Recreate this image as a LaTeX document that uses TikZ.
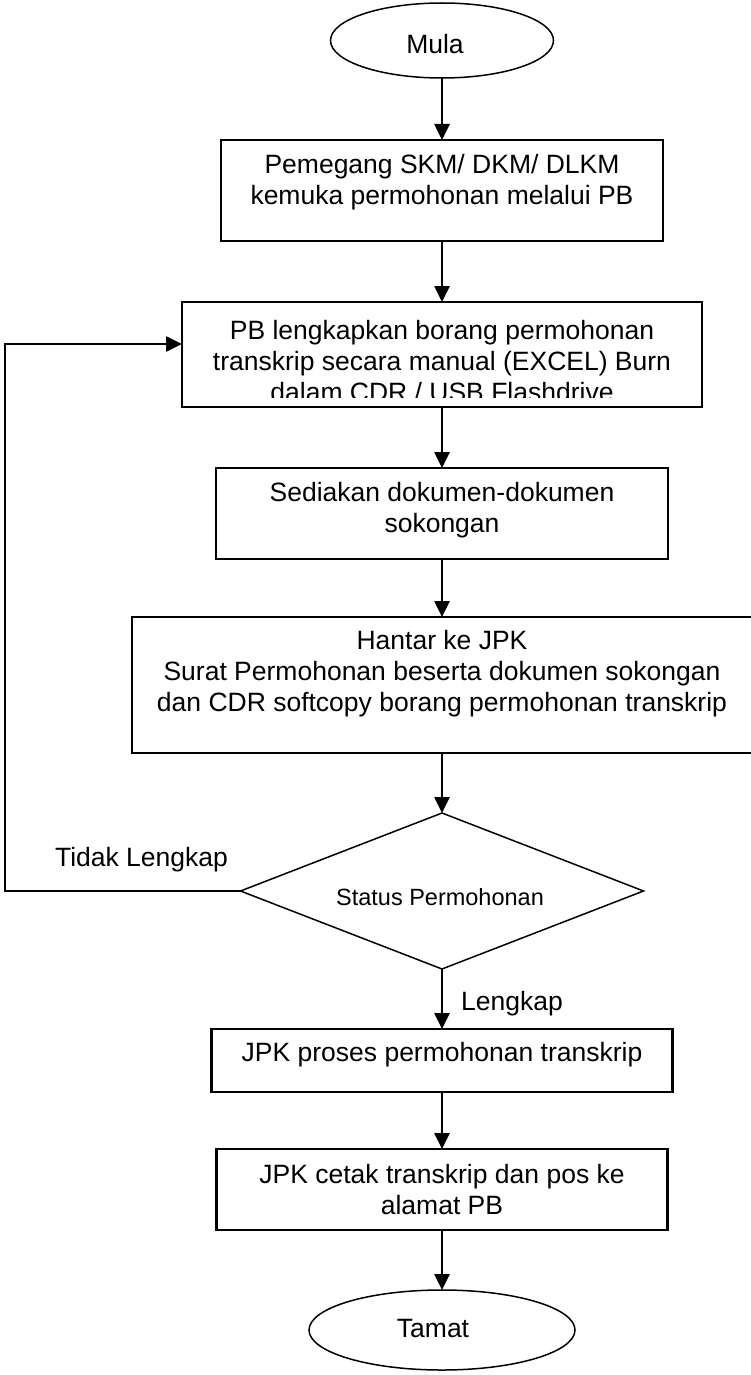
\documentclass[tikz,border=0pt]{standalone}
\usepackage{fontspec}
\setmainfont{Liberation Sans}
\usetikzlibrary{positioning,shapes.geometric,arrows.meta}
\tikzstyle{startstop} = [ellipse, draw=black, line width=1.5pt, inner sep=0pt, outer sep=0pt]
\tikzstyle{process} = [rectangle, draw=black, line width=2.2pt, inner sep=0pt, outer sep=0pt]
\tikzstyle{decision} = [diamond, draw=black, line width=1.5pt, inner sep=0pt, outer sep=0pt]
\tikzstyle{boxtext} = [align=center, inner sep=0pt, font=\fontsize{26.5}{31}\selectfont]
\tikzstyle{arrow} = [line width=2.6pt, -{Triangle[width=15pt,length=16pt]}]

\begin{document}
\begin{tikzpicture}[x=1pt, y=-1pt, node distance=60pt]
\useasboundingbox (0,0) rectangle (750,1375);


% Start

	\node (mula) [startstop, minimum width=223pt, minimum height=75pt] at (442,40.5) {};
	\node (mulaText) [boxtext] at ([xshift=-7pt,yshift=-3.5pt]mula.center) {Mula};


% Application

	\node (pemegang) [process, below=62pt of mula, minimum width=442pt, minimum height=101pt] {};
	\node (pemegangText) [boxtext] at ([yshift=8.5pt]pemegang.center) {Pemegang SKM/ DKM/ DLKM\\kemuka permohonan melalui PB};

	\node (borang) [process, below=61pt of pemegang, minimum width=520pt, minimum height=105pt] {};
	\begin{scope}
	\clip (borang.north west) rectangle ([yshift=10pt]borang.south east);
	\node (borangText) [boxtext] at ([yshift=-6.5pt]borang.center) {PB lengkapkan borang permohonan\\transkrip secara manual (EXCEL) Burn\\dalam CDR / USB Flashdrive};
	\end{scope}

	\node (sediakan) [process, below=61pt of borang, minimum width=452pt, minimum height=91pt] {};
	\node (sediakanText) [boxtext] at ([yshift=3.5pt]sediakan.center) {Sediakan dokumen-dokumen\\sokongan};

	\node (hantar) [process, below=58pt of sediakan, minimum width=620pt, minimum height=136pt] {};
	\node (hantarText) [boxtext] at ([yshift=11pt]hantar.center) {Hantar ke JPK\\Surat Permohonan beserta dokumen sokongan\\dan CDR softcopy borang permohonan transkrip};


% Decision

	\node (status) [decision, below=of hantar, minimum width=403pt, minimum height=156pt] {};
	\node (statusText) [boxtext, font=\fontsize{23.5}{28}\selectfont] at ([xshift=-2pt,yshift=-6pt]status.center) {Status Permohonan};


% JPK side

	\node (proses) [process, below=of status, minimum width=461pt, minimum height=63pt] {};
	\node (prosesText) [boxtext] at ([yshift=5.5pt]proses.center) {JPK proses permohonan transkrip};

	\node (cetak) [process, below=57pt of proses, minimum width=451pt, minimum height=81pt] {};
	\node (cetakText) [boxtext] at (cetak.center) {JPK cetak transkrip dan pos ke\\alamat PB};

	\node (tamat) [startstop, below=of cetak, minimum width=266pt, minimum height=80pt] {};
	\node (tamatText) [boxtext] at ([xshift=-9pt,yshift=2pt]tamat.center) {Tamat};


% Arrows
	\draw [arrow] (mula) -- (pemegang);
	\draw [arrow] (pemegang) -- (borang);
	\draw [arrow] (borang) -- (sediakan);
	\draw [arrow] (sediakan) -- (hantar);
	\draw [arrow] (hantar) -- (status);

	\draw [arrow] (status) -- node (lengkap) [boxtext, xshift=70pt, yshift=-5pt] {Lengkap} (proses);
	\draw [arrow] (proses) -- (cetak);
	\draw [arrow] (cetak) -- (tamat);


% Back to the form when not complete
	\coordinate (back) at (5,0);
	\draw [arrow] (status.west) -- (status.west -| back) |- ([yshift=10.5pt]borang.west);
	\node (tidak) [boxtext] at ([xshift=-99pt,yshift=31pt]status.west) {Tidak Lengkap};


\end{tikzpicture}
\end{document}
